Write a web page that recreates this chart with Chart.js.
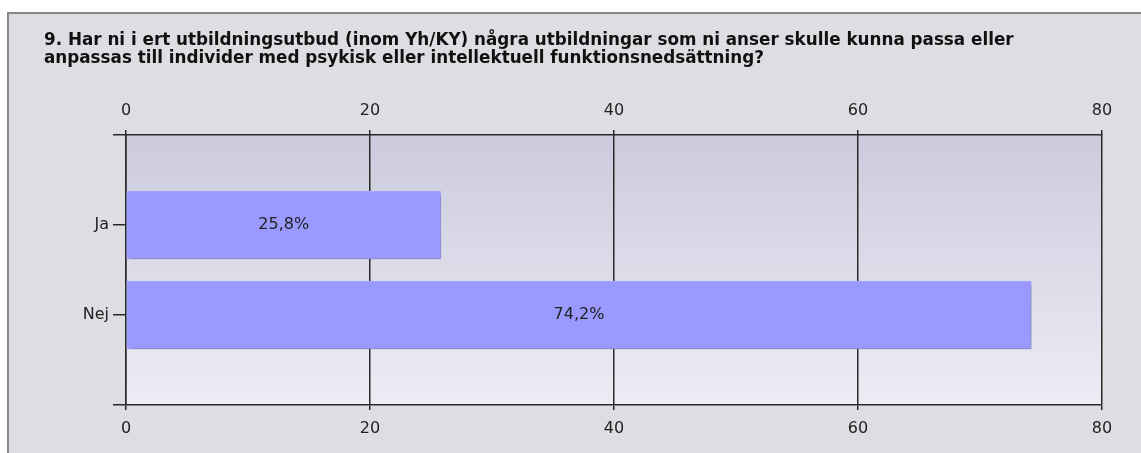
<!DOCTYPE html>
<html><head><meta charset="utf-8">
<script src="https://cdn.jsdelivr.net/npm/chart.js@4.4.1/dist/chart.umd.min.js"></script>
<style>
html,body{margin:0;padding:0;background:#fff;width:1141px;height:453px;overflow:hidden}
#panel{position:absolute;left:7px;top:12px;width:1134px;height:441px;background:#dedde2;border-top:2px solid #878787;border-left:2px solid #878787;box-sizing:border-box}
canvas{display:block}
</style></head><body>
<div id="panel"><canvas id="c" width="1132" height="439"></canvas></div>
<script>
const titleLines = [
  '9. Har ni i ert utbildningsutbud (inom Yh/KY) några utbildningar som ni anser skulle kunna passa eller',
  'anpassas till individer med psykisk eller intellektuell funktionsnedsättning?'
];
const categories = ['Ja', 'Nej'];
const values = [25.8, 74.2];
const xTicks = [0, 20, 40, 60, 80];

const FONT = '"DejaVu Sans",sans-serif';
const lineCol = '#2a2a2a';

const yLabels = [''].concat(categories, ['']);
const yData = [null].concat(values, [null]);

const bgPlugin = {
  id: 'plotBg',
  beforeDraw(chart) {
    const a = chart.chartArea, ctx = chart.ctx;
    const g = ctx.createLinearGradient(0, a.top, 0, a.bottom);
    g.addColorStop(0, '#cccbdd');
    g.addColorStop(1, '#ececf5');
    ctx.save();
    ctx.fillStyle = g;
    ctx.fillRect(a.left, a.top, a.right - a.left, a.bottom - a.top);
    ctx.restore();
  }
};
const shadowPlugin = {
  id: 'barShadow',
  beforeDatasetDraw(chart) {
    const ctx = chart.ctx;
    ctx.save();
    ctx.shadowColor = 'rgba(0,0,0,0.2)';
    ctx.shadowBlur = 3;
    ctx.shadowOffsetX = 3;
    ctx.shadowOffsetY = 3;
  },
  afterDatasetDraw(chart) { chart.ctx.restore(); }
};
const labelPlugin = {
  id: 'barLabels',
  afterDatasetsDraw(chart) {
    const ctx = chart.ctx, meta = chart.getDatasetMeta(0), data = chart.data.datasets[0].data;
    ctx.save();
    ctx.font = '16px ' + FONT;
    ctx.fillStyle = '#222';
    ctx.textAlign = 'center';
    ctx.textBaseline = 'middle';
    meta.data.forEach((bar, i) => {
      const v = data[i];
      if (v == null) return;
      ctx.fillText(v.toFixed(1).replace('.', ',') + '%', (bar.x + bar.base) / 2, bar.y);
    });
    ctx.restore();
  }
};

new Chart(document.getElementById('c'), {
  type: 'bar',
  data: {
    labels: yLabels,
    datasets: [{
      data: yData,
      backgroundColor: '#9999ff',
      borderColor: '#a9a9ff',
      borderWidth: 1,
      borderSkipped: false,
      barThickness: 68,
      xAxisID: 'x',
      yAxisID: 'y'
    }]
  },
  options: {
    indexAxis: 'y',
    responsive: false,
    animation: false,
    layout: { padding: { left: 35, right: 39, top: 0, bottom: 0 } },
    plugins: {
      legend: { display: false },
      tooltip: { enabled: false },
      title: {
        display: true,
        text: titleLines,
        align: 'start',
        color: '#111',
        font: { family: FONT, size: 16.8, weight: 'bold', lineHeight: '18px' },
        padding: { top: 18, bottom: 10 }
      }
    },
    scales: {
      x: {
        type: 'linear', position: 'bottom', min: 0, max: 80,
        afterBuildTicks(s) { s.ticks = xTicks.map(v => ({ value: v })); },
        afterFit(s) { s.height = 48; },
        grid: { display: true, drawOnChartArea: true, color: lineCol, lineWidth: 1.5, tickLength: 5 },
        border: { display: true, color: lineCol, width: 1.5 },
        ticks: { color: '#222', padding: 9, font: { family: FONT, size: 16 } }
      },
      x2: {
        type: 'linear', position: 'top', min: 0, max: 80,
        afterBuildTicks(s) { s.ticks = xTicks.map(v => ({ value: v })); },
        afterFit(s) { s.height = 57; },
        grid: { display: true, drawOnChartArea: false, color: lineCol, lineWidth: 1.5, tickLength: 5 },
        border: { display: true, color: lineCol, width: 1.5 },
        ticks: { color: '#222', padding: 10, font: { family: FONT, size: 16 } }
      },
      y: {
        type: 'category', position: 'left', offset: false,
        afterFit(s) { s.width = 82; },
        grid: { display: true, offset: false, drawOnChartArea: false, color: lineCol, lineWidth: 1.5, tickLength: 13 },
        border: { display: true, color: lineCol, width: 1.5 },
        ticks: { color: '#222', padding: 4, font: { family: FONT, size: 16 } }
      }
    }
  },
  plugins: [bgPlugin, shadowPlugin, labelPlugin]
});
</script>
</body></html>
